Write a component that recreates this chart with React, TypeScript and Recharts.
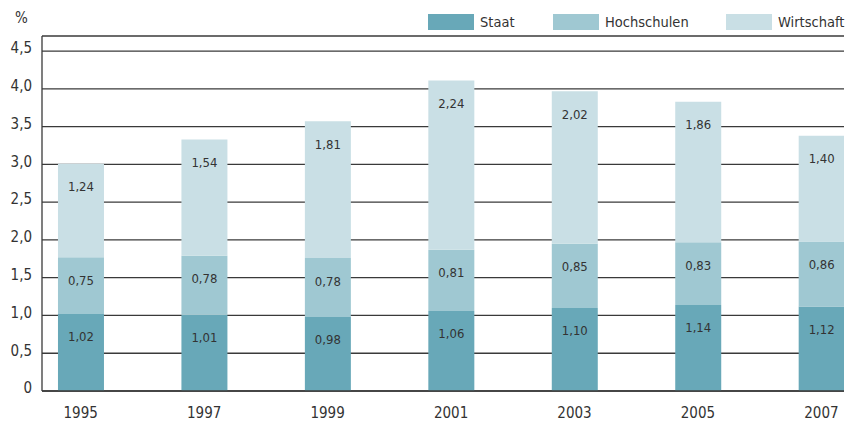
import React from "react";
import {
  BarChart,
  Bar,
  XAxis,
  YAxis,
  CartesianGrid,
  LabelList,
} from "recharts";

const years = [1995, 1997, 1999, 2001, 2003, 2005, 2007];
const staat = [1.02, 1.01, 0.98, 1.06, 1.1, 1.14, 1.12];
const hochschulen = [0.75, 0.78, 0.78, 0.81, 0.85, 0.83, 0.86];
const wirtschaft = [1.24, 1.54, 1.81, 2.24, 2.02, 1.86, 1.4];
const yTicks = [0, 0.5, 1, 1.5, 2, 2.5, 3, 3.5, 4, 4.5];

const series = [
  { key: "staat", name: "Staat", color: "#68a8b8" },
  { key: "hochschulen", name: "Hochschulen", color: "#9fc8d2" },
  { key: "wirtschaft", name: "Wirtschaft", color: "#c9dfe5" },
];

const data = years.map((year, i) => ({
  year,
  staat: staat[i],
  hochschulen: hochschulen[i],
  wirtschaft: wirtschaft[i],
}));

const FONT = "'Liberation Sans Narrow', 'DejaVu Sans Condensed', sans-serif";
const TEXT = "#333333";
const LINE = "#3a3a3a";

const fmtValue = (v: number) => v.toFixed(2).replace(".", ",");

const SegmentLabel = (props: any) => {
  const { x, y, width, value } = props;
  return (
    <text
      x={x + width / 2}
      y={y + 24}
      textAnchor="middle"
      dominantBaseline="middle"
      fontSize={13}
      fill={TEXT}
      fontFamily={FONT}
    >
      {fmtValue(value)}
    </text>
  );
};

const legendPos = [428, 553, 726];

export default function App() {
  return (
    <div
      style={{
        position: "absolute",
        top: 0,
        left: 0,
        width: 850,
        height: 424,
        background: "#fff",
        fontFamily: FONT,
      }}
    >
      <div
        style={{
          position: "absolute",
          left: 15,
          top: 9,
          fontSize: 15,
          color: TEXT,
        }}
      >
        %
      </div>
      {series.map((s, i) => (
        <div
          key={s.key}
          style={{
            position: "absolute",
            left: legendPos[i],
            top: 14,
            display: "flex",
            alignItems: "center",
            fontSize: 14.5,
            color: TEXT,
          }}
        >
          <span
            style={{
              width: 46,
              height: 16,
              background: s.color,
              display: "inline-block",
              marginRight: 6,
            }}
          />
          <span>{s.name}</span>
        </div>
      ))}
      <BarChart
        width={850}
        height={424}
        data={data}
        margin={{ top: 36, right: 6, bottom: 0, left: 0 }}
        style={{ position: "absolute", top: 0, left: 0 }}
      >
        <CartesianGrid
          vertical={false}
          stroke={LINE}
          strokeWidth={1.3}
        />
        <XAxis
          dataKey="year"
          type="number"
          domain={[1994.373, 2007.366]}
          ticks={years}
          allowDataOverflow
          height={33}
          axisLine={{ stroke: LINE, strokeWidth: 1.3 }}
          tickLine={false}
          tickMargin={10}
          tick={{ fill: TEXT, fontSize: 15, fontFamily: FONT }}
        />
        <YAxis
          width={42}
          domain={[0, 4.7]}
          ticks={yTicks}
          allowDataOverflow
          axisLine={{ stroke: LINE, strokeWidth: 1.3 }}
          tickLine={false}
          tickMargin={4}
          tickFormatter={(v: number) => (v === 0 ? "0" : v.toFixed(1).replace(".", ","))}
          tick={{ fill: TEXT, fontSize: 15, fontFamily: FONT, dy: -3 }}
        />
        {series.map((s) => (
          <Bar
            key={s.key}
            dataKey={s.key}
            name={s.name}
            stackId="a"
            fill={s.color}
            barSize={46}
            isAnimationActive={false}
          >
            <LabelList dataKey={s.key} content={SegmentLabel} />
          </Bar>
        ))}
      </BarChart>
    </div>
  );
}
